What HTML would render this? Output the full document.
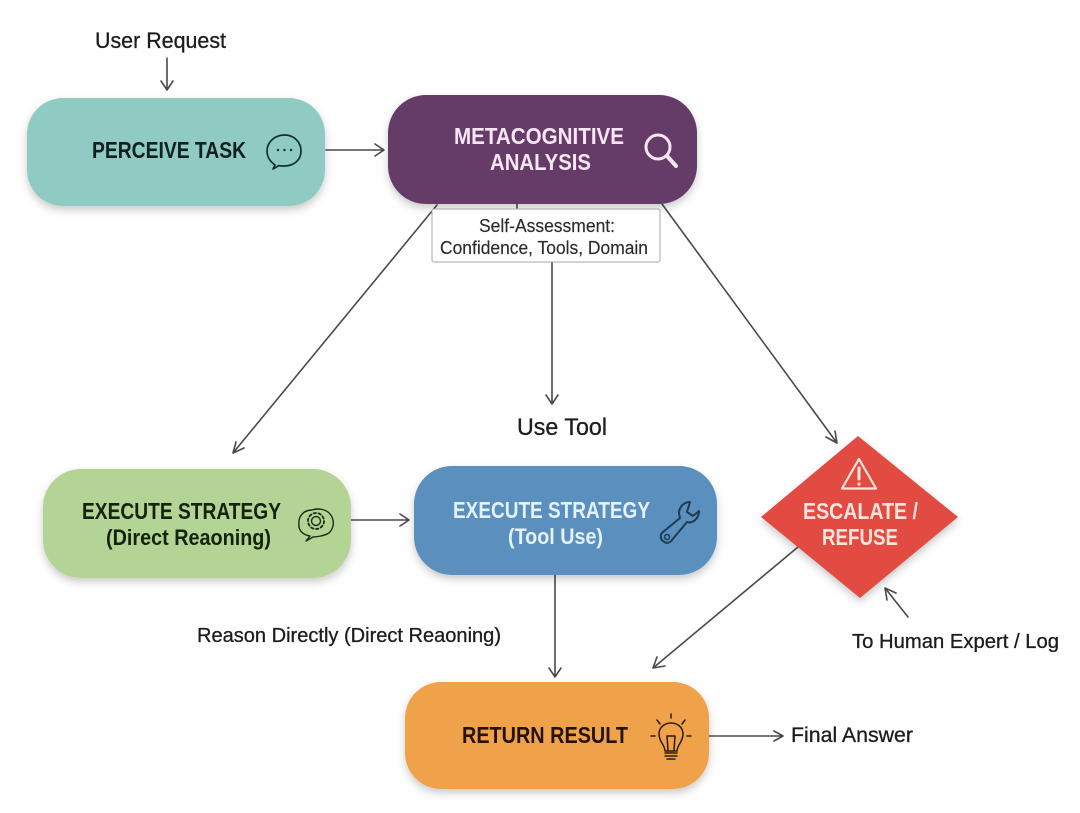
<!DOCTYPE html>
<html lang="en">
<head>
<meta charset="utf-8">
<title>Metacognitive flow diagram</title>
<style>
html,body{margin:0;padding:0;background:#fefefe;}
svg{display:block;}
text{font-family:"Liberation Sans",sans-serif;}
.b{font-weight:700;font-size:23px;}
.n{font-size:22px;fill:#1d1d1f;stroke:#1d1d1f;stroke-width:.3px;}
.s{font-size:18.500px;fill:#2b2b2b;stroke:#2b2b2b;stroke-width:.15px;}
.a{fill:none;stroke:#4a4a4a;stroke-width:1.600;stroke-linecap:round;stroke-linejoin:round;}
.i{fill:none;stroke-width:2;stroke-linecap:round;stroke-linejoin:round;}
</style>
</head>
<body>
<svg width="1080" height="813" viewBox="0 0 1080 813" xmlns="http://www.w3.org/2000/svg">
<defs>
<filter id="sh" x="-15%" y="-20%" width="130%" height="150%">
<feDropShadow dx="0" dy="4" stdDeviation="4" flood-color="#000" flood-opacity="0.2"/>
</filter>
</defs>

<!-- connectors -->
<g class="a">
<path d="M167 58V90M161 81L167 90L173 81"/>
<path d="M326 150H384M375 144L384 150L375 156"/>
<path d="M437 205L233 453M236 442L233 453L244 448"/>
<path d="M517 204V209M552 262V404M546 395L552 404L558 395"/>
<path d="M662 204L837 443M826 437L837 443L835 431"/>
<path d="M351 520H409M400 514L409 520L400 526"/>
<path d="M555 575V677M549 668L555 677L561 668"/>
<path d="M798 547L653 668M657 657L653 668L665 666"/>
<path d="M709 736H783M774 731L783 736L774 741"/>
<path d="M908 617L885 588M887 600L885 588L896 593"/>
</g>

<!-- nodes -->
<g filter="url(#sh)">
<rect x="27" y="98" width="298" height="108" rx="36" fill="#8fcbc3"/>
<rect x="388" y="95" width="309" height="109" rx="38" fill="#653a67"/>
<rect x="43" y="469" width="308" height="109" rx="38" fill="#b3d495"/>
<rect x="414" y="466" width="303" height="109" rx="38" fill="#5a8fbe"/>
<rect x="405" y="682" width="304" height="107" rx="36" fill="#f0a24b"/>
<path d="M761 517L858 436L958 517L860 598Z" fill="#e24c42"/>
</g>

<!-- self-assessment box -->
<rect x="432" y="209" width="228" height="53" rx="2" fill="#fff" stroke="#a8a8a8" stroke-width="1"/>
<text class="s" x="479" y="232" textLength="136" lengthAdjust="spacingAndGlyphs">Self-Assessment:</text>
<text class="s" x="440" y="254" textLength="208" lengthAdjust="spacingAndGlyphs">Confidence, Tools, Domain</text>

<!-- node labels -->
<text class="b" x="92" y="158" fill="#10201f" textLength="154" lengthAdjust="spacingAndGlyphs">PERCEIVE TASK</text>
<text class="b" x="454" y="144" fill="#f8e6f4" textLength="170" lengthAdjust="spacingAndGlyphs">METACOGNITIVE</text>
<text class="b" x="490" y="170" fill="#f8e6f4" textLength="101" lengthAdjust="spacingAndGlyphs">ANALYSIS</text>
<text class="b" x="82" y="519" fill="#14220e" textLength="199" lengthAdjust="spacingAndGlyphs">EXECUTE STRATEGY</text>
<text x="106" y="545" fill="#14220e" font-size="22" font-weight="700" textLength="165" lengthAdjust="spacingAndGlyphs">(Direct Reaoning)</text>
<text class="b" x="453" y="518" fill="#e4f2fa" textLength="197" lengthAdjust="spacingAndGlyphs">EXECUTE STRATEGY</text>
<text x="508" y="544" fill="#e4f2fa" font-size="22" font-weight="700" textLength="95" lengthAdjust="spacingAndGlyphs">(Tool Use)</text>
<text class="b" x="803" y="519" fill="#fbe4dc" textLength="115" lengthAdjust="spacingAndGlyphs">ESCALATE /</text>
<text class="b" x="822" y="545" fill="#fbe4dc" textLength="76" lengthAdjust="spacingAndGlyphs">REFUSE</text>
<text class="b" x="462" y="743" fill="#24130a" textLength="166" lengthAdjust="spacingAndGlyphs">RETURN RESULT</text>

<!-- free labels -->
<text class="n" x="95" y="48" textLength="131" lengthAdjust="spacingAndGlyphs">User Request</text>
<text class="n" x="517" y="435" style="font-size:24px" textLength="90" lengthAdjust="spacingAndGlyphs">Use Tool</text>
<text class="n" x="197" y="642" style="font-size:20.500px" textLength="304" lengthAdjust="spacingAndGlyphs">Reason Directly (Direct Reaoning)</text>
<text class="n" x="852" y="648" style="font-size:20.500px" textLength="207" lengthAdjust="spacingAndGlyphs">To Human Expert / Log</text>
<text class="n" x="791" y="742" style="font-size:21px" textLength="122" lengthAdjust="spacingAndGlyphs">Final Answer</text>

<!-- chat icon -->
<g class="i" stroke="#123033" style="stroke-width:1.700">
<path d="M275 165C268 160 267 155 267 151C267 142 275 135 284.500 135C294 135 301 142 301 151C301 160 294 166 284 166C282 166 280 166 279 165.500L273 169Z"/>
</g>
<circle cx="278" cy="150" r="1.200" fill="#123033"/><circle cx="284.500" cy="150" r="1.200" fill="#123033"/><circle cx="291" cy="150" r="1.200" fill="#123033"/>

<!-- magnifier -->
<g class="i" stroke="#f8e6f4" style="stroke-width:3">
<circle cx="658" cy="147" r="12"/>
<path d="M667 156L676 166" style="stroke-width:4"/>
</g>

<!-- gear bubble -->
<g class="i" stroke="#1c2c14" style="stroke-width:1.400">
<path d="M306 541L310 536C303 535 298 530 299 524C298 516 304 510 312 510C318 508 326 509 330 514C335 520 334 528 329 533C324 536 316 537 313 537Z"/>
<circle cx="316" cy="521" r="4.500"/>
<circle cx="316" cy="521" r="8" stroke-dasharray="2.500 2.500" style="stroke-width:1.800"/>
</g>

<!-- wrench -->
<path d="M690 502C684 502 679 507 679 513C679 515 680 517 680 518L663 532C660 534 660 539 663 541C666 544 670 543 672 540L687 522C693 524 699 518 699 511L693 516L687 512L690 502Z" fill="none" stroke="#1d3b55" stroke-width="2" stroke-linejoin="round"/>
<circle cx="667" cy="537" r="2.500" fill="none" stroke="#1d3b55" stroke-width="1.500"/>

<!-- warning -->
<path d="M859 459L876 488.500H842Z" fill="none" stroke="#fbe4dc" stroke-width="2.200" stroke-linejoin="round"/>
<path d="M859 468V479" stroke="#fbe4dc" stroke-width="3" stroke-linecap="round"/>
<circle cx="859" cy="484" r="1.600" fill="#fbe4dc"/>

<!-- bulb -->
<g class="i" stroke="#2a1a0c" style="stroke-width:1.500" transform="translate(0,2)">
<path d="M665 749C665 743 659 740 659 732C659 725 665 721 671 721C677 721 683 725 683 732C683 740 677 743 677 749Z"/>
<path d="M668 748L667 734H675L674 748"/>
<path d="M665 751H677M665 754H677M667 757H675"/>
<path d="M671 712V716M657 718L660 722M685 718L682 722M651 734H655M687 734H691"/>
</g>
</svg>
</body>
</html>
